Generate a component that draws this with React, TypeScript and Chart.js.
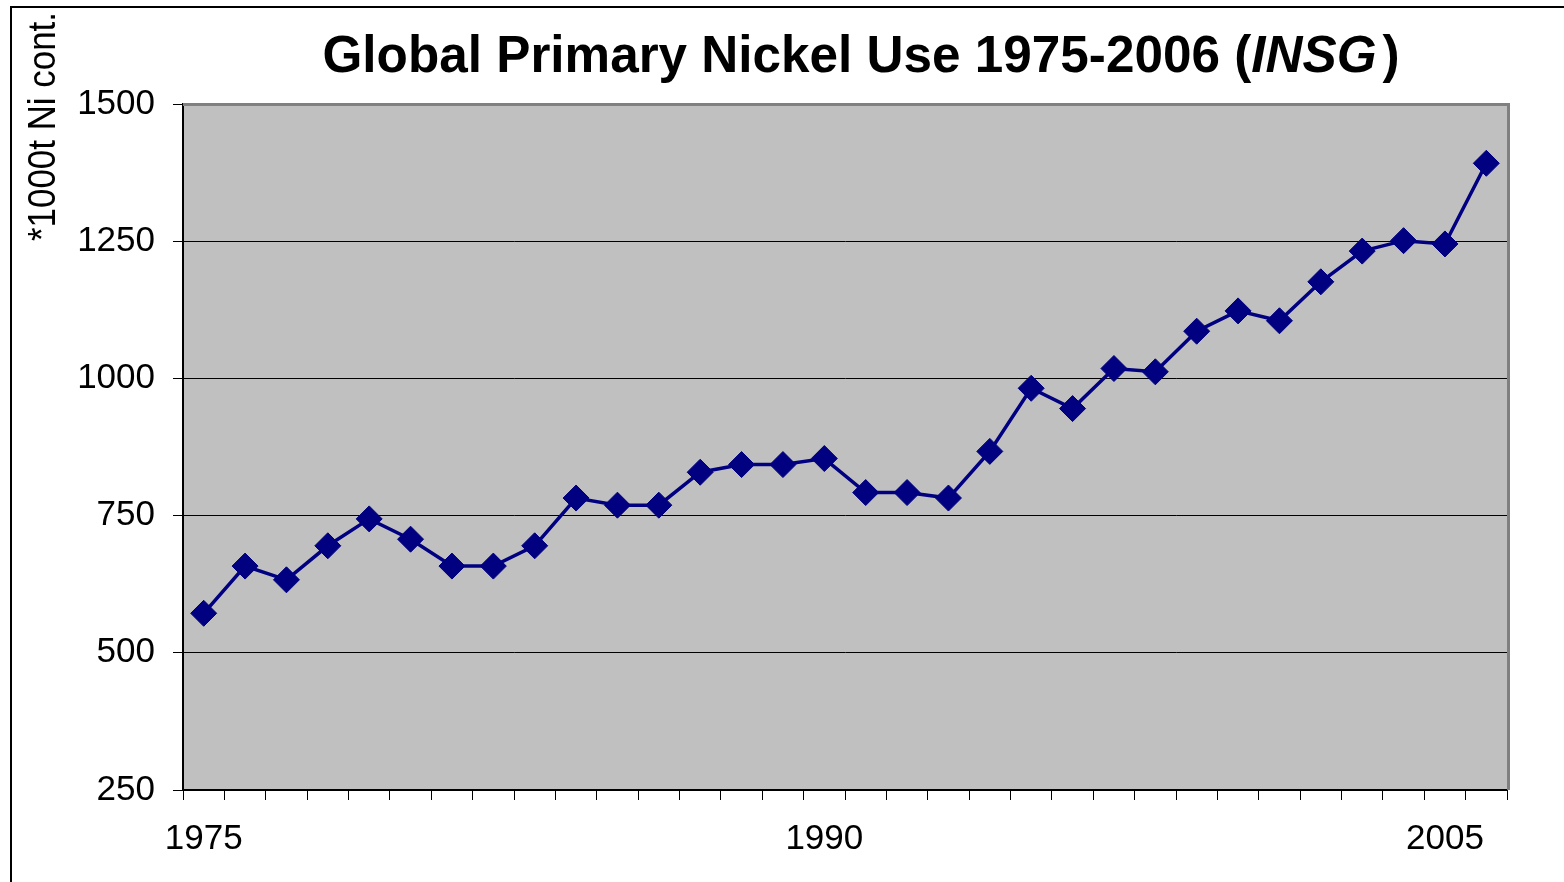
import React, { useEffect, useRef } from "react";
import { Chart, registerables } from "chart.js";

Chart.register(...registerables);

const years: string[] = [
  "1975", "1976", "1977", "1978", "1979", "1980", "1981", "1982", "1983", "1984",
  "1985", "1986", "1987", "1988", "1989", "1990", "1991", "1992", "1993", "1994",
  "1995", "1996", "1997", "1998", "1999", "2000", "2001", "2002", "2003", "2004",
  "2005", "2006",
];

const nickelUse: number[] = [
  572, 658, 633, 695, 744, 707, 658, 658, 695, 782,
  769, 769, 829, 843, 843, 854, 792, 792, 782, 867,
  982, 945, 1018, 1012, 1086, 1123, 1105, 1176, 1232, 1251,
  1245, 1392,
];

const shownYearLabels: string[] = ["1975", "1990", "2005"];

const titleMain = "Global Primary Nickel Use 1975-2006 (";
const titleItalic = "INSG";
const titleEnd = ")";
const yAxisLabel = "*1000t Ni cont.";

const FONT = "'Liberation Sans', Arial, sans-serif";

export default function App() {
  const canvasRef = useRef<HTMLCanvasElement | null>(null);

  useEffect(() => {
    const canvas = canvasRef.current;
    if (!canvas) return;

    const decorPlugin = {
      id: "decor",
      beforeDraw(chart: any) {
        const { ctx, chartArea } = chart;
        ctx.save();
        ctx.fillStyle = "#C0C0C0";
        ctx.fillRect(chartArea.left, chartArea.top, chartArea.right - chartArea.left, chartArea.bottom - chartArea.top);
        ctx.restore();
      },
      beforeDatasetsDraw(chart: any) {
        const { ctx, chartArea } = chart;
        ctx.save();
        ctx.strokeStyle = "#808080";
        ctx.lineWidth = 3;
        ctx.beginPath();
        ctx.moveTo(chartArea.left, chartArea.top + 0.5);
        ctx.lineTo(chartArea.right + 1.5, chartArea.top + 0.5);
        ctx.lineTo(chartArea.right + 1.5, chartArea.bottom);
        ctx.stroke();
        ctx.restore();
      },
      afterDraw(chart: any) {
        const { ctx } = chart;
        ctx.save();
        // Title
        const boldFont = `bold 52px ${FONT}`;
        const italicFont = `italic bold 52px ${FONT}`;
        ctx.font = boldFont;
        const w1 = ctx.measureText(titleMain).width;
        const w3 = ctx.measureText(titleEnd).width;
        ctx.font = italicFont;
        const w2 = ctx.measureText(titleItalic).width;
        const gap = 6;
        const total = w1 + w2 + gap + w3;
        const sx = 1077 / total;
        ctx.translate(861 - 1077 / 2, 72);
        ctx.scale(sx, 1);
        let x = 0;
        ctx.fillStyle = "#000";
        ctx.textBaseline = "alphabetic";
        ctx.textAlign = "left";
        ctx.font = boldFont;
        ctx.fillText(titleMain, x, 0);
        x += w1;
        ctx.font = italicFont;
        ctx.fillText(titleItalic, x, 0);
        x += w2 + gap;
        ctx.font = boldFont;
        ctx.fillText(titleEnd, x, 0);
        ctx.restore();

        // Y axis label
        ctx.save();
        ctx.fillStyle = "#000";
        ctx.font = `39px ${FONT}`;
        const lw = ctx.measureText(yAxisLabel).width;
        ctx.translate(55, 241);
        ctx.rotate(-Math.PI / 2);
        ctx.scale(229 / lw, 1);
        ctx.textAlign = "left";
        ctx.textBaseline = "alphabetic";
        ctx.fillText(yAxisLabel, 0, 0);
        ctx.restore();
      },
    };

    const chart = new Chart(canvas, {
      type: "line",
      data: {
        labels: years,
        datasets: [
          {
            label: "Primary nickel use",
            data: nickelUse,
            borderColor: "#000080",
            backgroundColor: "#000080",
            borderWidth: 3.5,
            tension: 0,
            pointStyle: "rectRot",
            pointRadius: 13,
            pointBorderWidth: 1,
            pointBorderColor: "#000080",
            pointBackgroundColor: "#000080",
          },
        ],
      },
      options: {
        animation: false,
        responsive: false,
        layout: { padding: { top: 104, left: 0, right: 57, bottom: 0 } },
        plugins: {
          legend: { display: false },
          title: { display: false },
          tooltip: { enabled: false },
        },
        scales: {
          x: {
            type: "category",
            offset: true,
            afterFit(scale: any) {
              scale.height = 92;
            },
            grid: {
              offset: true,
              drawOnChartArea: false,
              drawTicks: true,
              tickLength: 10,
              tickColor: "#000",
              tickWidth: 1,
            },
            border: { display: true, color: "#000", width: 2 },
            ticks: {
              autoSkip: false,
              maxRotation: 0,
              padding: 18,
              color: "#000",
              font: { family: FONT, size: 35 },
              callback(value: any, index: number) {
                const lbl = years[index];
                return shownYearLabels.includes(lbl) ? lbl : "";
              },
            },
          },
          y: {
            min: 250,
            max: 1500,
            afterFit(scale: any) {
              scale.width = 183;
            },
            grid: {
              drawOnChartArea: true,
              color: (c: any) => (c.tick && c.tick.value === 1500 ? "#808080" : "#000"),
              lineWidth: 1,
              drawTicks: true,
              tickLength: 10,
              tickColor: "#000",
            },
            border: { display: true, color: "#000", width: 2 },
            ticks: {
              stepSize: 250,
              padding: 18,
              color: "#000",
              font: { family: FONT, size: 35 },
              callback(value: any) {
                return String(value);
              },
            },
          },
        },
      },
      plugins: [decorPlugin],
    } as any);

    return () => {
      chart.destroy();
    };
  }, []);

  return (
    <div
      style={{
        position: "fixed",
        left: 0,
        top: 0,
        width: 1564,
        height: 882,
        overflow: "hidden",
        background: "#fff",
      }}
    >
      <div
        style={{
          position: "absolute",
          left: 10,
          top: 6,
          width: 2000,
          height: 2000,
          borderLeft: "2px solid #000",
          borderTop: "2px solid #000",
        }}
      />
      <canvas
        ref={canvasRef}
        width={1564}
        height={882}
        style={{ position: "absolute", left: 0, top: 0, width: 1564, height: 882 }}
      />
    </div>
  );
}
